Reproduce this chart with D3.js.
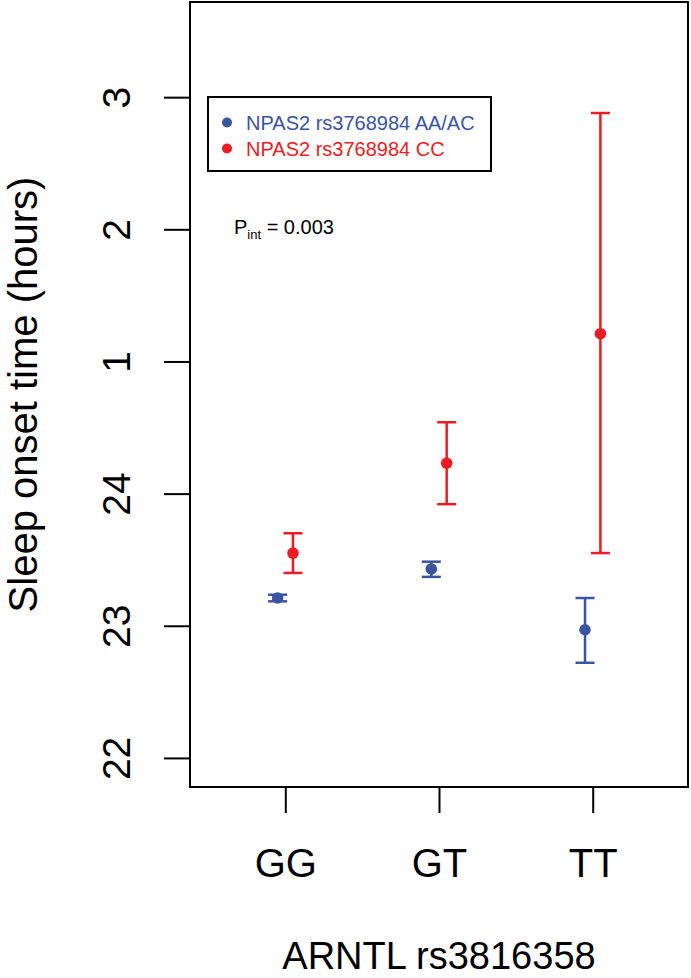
<!DOCTYPE html>
<html lang="en">
    <head>
        <meta charset="utf-8">
        <title>Sleep onset time</title>
        <script src="https://d3js.org/d3.v7.min.js"></script>
        <style>
            body { margin: 0; background: #fff; }
            text { font-family: "Liberation Sans", Arial, Helvetica, sans-serif; }
        </style>
    </head>
    <body>
        <div id="dataviz"></div>
        <script>
            // genotypes on the x axis
            var genotypes = ["GG", "GT", "TT"];
            // NPAS2 AA/AC (blue)
            var blueMean  = [23.21, 23.43, 22.97];
            var blueLow   = [23.185, 23.37, 22.72];
            var blueHigh  = [23.235, 23.485, 23.21];
            // NPAS2 CC (red)
            var redMean   = [23.55, 24.23, 25.21];
            var redLow    = [23.40, 23.92, 23.55];
            var redHigh   = [23.70, 24.54, 26.88];
            // y ticks: clock hours past midnight shown as 1, 2, 3
            var yTicks = [22, 23, 24, 25, 26, 27];
            var yTickLabels = ["22", "23", "24", "1", "2", "3"];
            var seriesNames = ["NPAS2 rs3768984 AA/AC", "NPAS2 rs3768984 CC"];
            var seriesColors = ["#3a54a4", "#ed1c24"];

            var W = 691, H = 978;
            var box = {left: 190, right: 688, top: 2, bottom: 787};

            var svg = d3.select("#dataviz")
                        .append("svg")
                        .attr("width", W)
                        .attr("height", H);

            var x = d3.scaleLinear().domain([0.38, 3.62]).range([box.left, box.right]);
            var y = d3.scaleLinear().domain([21.78, 27.72]).range([box.bottom, box.top]);

            // y axis (ticks only, labels rotated like R)
            var yAxis = svg.append("g")
                .attr("transform", "translate(" + box.left + ",0)")
                .call(d3.axisLeft(y).tickValues(yTicks).tickSize(26)
                      .tickFormat(function(d, i) { return yTickLabels[i]; }));
            yAxis.select(".domain").remove();
            yAxis.selectAll("line").attr("stroke", "#000").attr("stroke-width", 2);
            yAxis.selectAll("text")
                .attr("transform", "rotate(-90)")
                .attr("x", 0).attr("y", -60).attr("dy", 0)
                .attr("text-anchor", "middle")
                .style("font-size", "39px").attr("fill", "#000");

            // x axis
            var xAxis = svg.append("g")
                .attr("transform", "translate(0," + box.bottom + ")")
                .call(d3.axisBottom(x).tickValues([1, 2, 3]).tickSize(26)
                      .tickFormat(function(d) { return genotypes[d - 1]; }));
            xAxis.select(".domain").remove();
            xAxis.selectAll("line").attr("stroke", "#000").attr("stroke-width", 2);
            xAxis.selectAll("text")
                .attr("y", 90).attr("dy", 0)
                .style("font-size", "40px").attr("fill", "#000");

            // plot box
            svg.append("rect")
                .attr("x", box.left).attr("y", box.top)
                .attr("width", box.right - box.left).attr("height", box.bottom - box.top)
                .attr("fill", "none").attr("stroke", "#000").attr("stroke-width", 2);

            // axis titles
            svg.append("text")
                .attr("x", (box.left + box.right) / 2).attr("y", 969)
                .attr("text-anchor", "middle")
                .style("font-size", "38px")
                .text("ARNTL rs3816358");

            svg.append("text")
                .attr("transform", "translate(37," + ((box.top + box.bottom) / 2) + ") rotate(-90)")
                .attr("text-anchor", "middle")
                .style("font-size", "40px")
                .text("Sleep onset time (hours)");

            // build series
            var series = [
                {off: -0.05, color: seriesColors[0], mean: blueMean, low: blueLow, high: blueHigh},
                {off: 0.05, color: seriesColors[1], mean: redMean, low: redLow, high: redHigh}
            ];
            var capHalf = 9.5;

            series.forEach(function(s) {
                var pts = genotypes.map(function(g, i) {
                    return {pos: i + 1 + s.off, m: s.mean[i], lo: s.low[i], hi: s.high[i]};
                });
                var g = svg.append("g").attr("stroke", s.color).attr("stroke-width", 2.5);
                g.selectAll(".bar").data(pts).enter().append("line")
                    .attr("x1", function(d) { return x(d.pos); })
                    .attr("x2", function(d) { return x(d.pos); })
                    .attr("y1", function(d) { return y(d.lo); })
                    .attr("y2", function(d) { return y(d.hi); });
                g.selectAll(".capHi").data(pts).enter().append("line")
                    .attr("x1", function(d) { return x(d.pos) - capHalf; })
                    .attr("x2", function(d) { return x(d.pos) + capHalf; })
                    .attr("y1", function(d) { return y(d.hi); })
                    .attr("y2", function(d) { return y(d.hi); });
                g.selectAll(".capLo").data(pts).enter().append("line")
                    .attr("x1", function(d) { return x(d.pos) - capHalf; })
                    .attr("x2", function(d) { return x(d.pos) + capHalf; })
                    .attr("y1", function(d) { return y(d.lo); })
                    .attr("y2", function(d) { return y(d.lo); });
                svg.selectAll(null).data(pts).enter().append("circle")
                    .attr("cx", function(d) { return x(d.pos); })
                    .attr("cy", function(d) { return y(d.m); })
                    .attr("r", 5.8)
                    .attr("fill", s.color);
            });

            // legend
            svg.append("rect")
                .attr("x", 208).attr("y", 97).attr("width", 283).attr("height", 74)
                .attr("fill", "none").attr("stroke", "#000").attr("stroke-width", 2);
            var leg = svg.selectAll(".leg").data(seriesNames).enter().append("g")
                .attr("transform", function(d, i) { return "translate(0," + (i * 26) + ")"; });
            leg.append("circle")
                .attr("cx", 227).attr("cy", 122.5).attr("r", 5)
                .attr("fill", function(d, i) { return seriesColors[i]; });
            leg.append("text")
                .attr("x", 246).attr("y", 129.5)
                .style("font-size", "20px")
                .attr("fill", function(d, i) { return seriesColors[i]; })
                .text(function(d) { return d; });

            // interaction p value
            var p = svg.append("text").attr("x", 234).attr("y", 234).style("font-size", "20px");
            p.append("tspan").text("P");
            p.append("tspan").attr("dy", 5).style("font-size", "13px").text("int");
            p.append("tspan").attr("dy", -5).text(" = 0.003");
        </script>
    </body>
</html>
